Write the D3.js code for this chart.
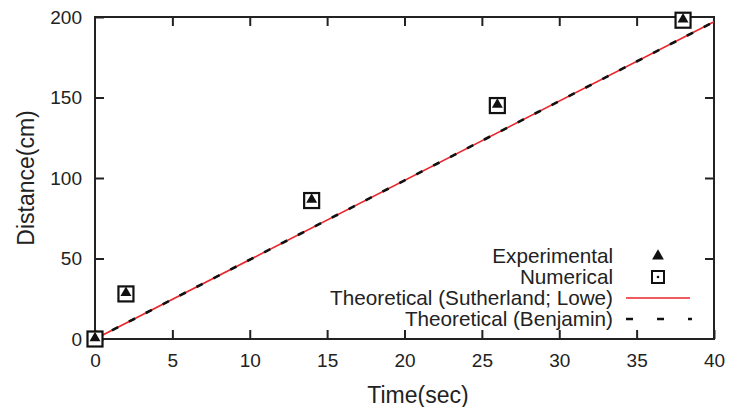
<!DOCTYPE html>
<html>
<head>
<meta charset="utf-8">
<script src="https://cdn.jsdelivr.net/npm/d3@7"></script>
<style>
  body { margin: 0; background: #fff; }
  text { font-family: "Liberation Sans", Arial, sans-serif; fill: #222; }
</style>
</head>
<body>
<div id="chart"></div>
<script>
// data
const expTime = [0, 2, 14, 26, 38];
const expDist = [0, 28, 86, 145, 198];
const numTime = [0, 2, 14, 26, 38];
const numDist = [0, 28, 86, 145, 198];
const theoryTime = [0, 40];
const sutherlandDist = [0, 197];
const benjaminDist = [0, 197];
const xTicks = [0, 5, 10, 15, 20, 25, 30, 35, 40];
const yTicks = [0, 50, 100, 150, 200];
const legendLabels = ["Experimental", "Numerical", "Theoretical (Sutherland; Lowe)", "Theoretical (Benjamin)"];

const width = 731, height = 407;
const margin = {top: 17, right: 17, bottom: 68, left: 95};

const svg = d3.select("#chart").append("svg")
  .attr("width", width)
  .attr("height", height);

const x = d3.scaleLinear().domain([0, 40]).range([margin.left, width - margin.right]);
const y = d3.scaleLinear().domain([0, 200]).range([height - margin.bottom, margin.top]);

const ink = "#222";
const tickLen = 9;

// frame
svg.append("rect")
  .attr("x", x(0)).attr("y", y(200))
  .attr("width", x(40) - x(0)).attr("height", y(0) - y(200))
  .attr("fill", "none").attr("stroke", ink).attr("stroke-width", 2);

// axes with inward ticks
const styleAxis = g => {
  g.select(".domain").remove();
  g.selectAll(".tick line").attr("stroke", ink).attr("stroke-width", 2);
  g.selectAll(".tick text").attr("fill", ink).style("font-size", "19px")
    .style("font-family", "Liberation Sans, Arial, sans-serif");
};

svg.append("g")
  .attr("transform", `translate(0,${y(0)})`)
  .call(d3.axisBottom(x).tickValues(xTicks).tickSizeInner(-tickLen).tickSizeOuter(0).tickPadding(15))
  .call(styleAxis);

svg.append("g")
  .attr("transform", `translate(0,${y(200)})`)
  .call(d3.axisTop(x).tickValues(xTicks.slice(1, -1)).tickSizeInner(-tickLen).tickSizeOuter(0).tickFormat(""))
  .call(styleAxis);

svg.append("g")
  .attr("transform", `translate(${x(0)},0)`)
  .call(d3.axisLeft(y).tickValues(yTicks).tickSizeInner(-tickLen).tickSizeOuter(0).tickPadding(13))
  .call(styleAxis);

svg.append("g")
  .attr("transform", `translate(${x(40)},0)`)
  .call(d3.axisRight(y).tickValues(yTicks.slice(1, -1)).tickSizeInner(-tickLen).tickSizeOuter(0).tickFormat(""))
  .call(styleAxis);

// axis titles
svg.append("text")
  .attr("x", 418).attr("y", 403)
  .attr("text-anchor", "middle")
  .style("font-size", "23px")
  .text("Time(sec)");

svg.append("text")
  .attr("transform", `translate(34,${(y(0) + y(200)) / 2}) rotate(-90)`)
  .attr("text-anchor", "middle")
  .style("font-size", "23px")
  .text("Distance(cm)");

// theoretical lines
const line = d3.line().x(d => x(d[0])).y(d => y(d[1]));

svg.append("path")
  .datum(d3.zip(theoryTime, sutherlandDist))
  .attr("d", line)
  .attr("fill", "none").attr("stroke", "#e8262b").attr("stroke-width", 1.6);

svg.append("path")
  .datum(d3.zip(theoryTime, benjaminDist))
  .attr("d", line)
  .attr("fill", "none").attr("stroke", "#111").attr("stroke-width", 2.6)
  .attr("stroke-dasharray", "7,12");

// numerical: squares with centre dot
const sq = 15;
const num = svg.append("g").selectAll("g")
  .data(d3.zip(numTime, numDist))
  .join("g")
  .attr("transform", d => `translate(${x(d[0])},${y(d[1])})`);
num.append("rect")
  .attr("x", -sq / 2).attr("y", -sq / 2).attr("width", sq).attr("height", sq)
  .attr("fill", "#fff").attr("stroke", "#111").attr("stroke-width", 2.2);
num.append("circle").attr("r", 1.3).attr("fill", "#111");

// experimental: filled triangles
const tri = d3.symbol().type(d3.symbolTriangle).size(52);
svg.append("g").selectAll("path")
  .data(d3.zip(expTime, expDist))
  .join("path")
  .attr("d", tri)
  .attr("transform", d => `translate(${x(d[0])},${y(d[1]) - 1})`)
  .attr("fill", "#111");

// legend
const legTextX = 613, legX0 = 626, legX1 = 690, legY = [256, 277, 298, 319];
const leg = svg.append("g");
leg.selectAll("text")
  .data(legendLabels)
  .join("text")
  .attr("x", legTextX)
  .attr("y", (d, i) => legY[i])
  .attr("dy", "0.35em")
  .attr("text-anchor", "end")
  .style("font-size", "20.7px")
  .text(d => d);

const mid = (legX0 + legX1) / 2;
leg.append("path")
  .attr("d", d3.symbol().type(d3.symbolTriangle).size(60))
  .attr("transform", `translate(${mid},${legY[0]})`)
  .attr("fill", "#111");
leg.append("rect")
  .attr("x", mid - 6).attr("y", legY[1] - 6).attr("width", 12).attr("height", 12)
  .attr("fill", "#fff").attr("stroke", "#111").attr("stroke-width", 2);
leg.append("circle").attr("cx", mid).attr("cy", legY[1]).attr("r", 1.3).attr("fill", "#111");
leg.append("line")
  .attr("x1", legX0).attr("x2", legX1).attr("y1", legY[2]).attr("y2", legY[2])
  .attr("stroke", "#e8262b").attr("stroke-width", 1.6);
leg.append("line")
  .attr("x1", legX0).attr("x2", legX1 + 2).attr("y1", legY[3]).attr("y2", legY[3])
  .attr("stroke", "#111").attr("stroke-width", 2.6)
  .attr("stroke-dasharray", "7,24");
</script>
</body>
</html>
